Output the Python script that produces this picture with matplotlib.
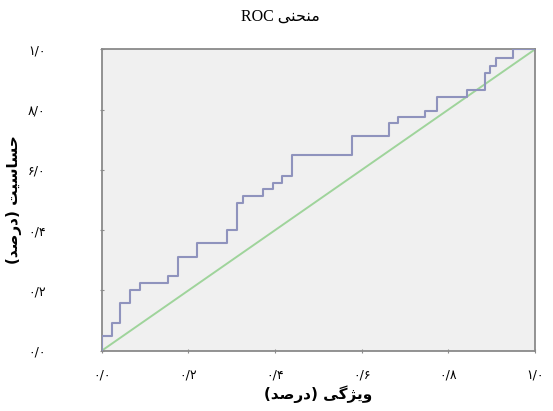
import matplotlib
matplotlib.use("Agg")
import matplotlib.pyplot as plt

# ROC curve corner points (1 - specificity, sensitivity)
fpr = [0.0, 0.0, 0.023, 0.023, 0.042, 0.042, 0.065, 0.065, 0.088, 0.088,
       0.154, 0.154, 0.177, 0.177, 0.219, 0.219, 0.288, 0.288, 0.312, 0.312,
       0.327, 0.327, 0.373, 0.373, 0.396, 0.396, 0.415, 0.415, 0.438, 0.438,
       0.577, 0.577, 0.664, 0.664, 0.684, 0.684, 0.746, 0.746, 0.774, 0.774,
       0.842, 0.842, 0.885, 0.885, 0.897, 0.897, 0.910, 0.910, 0.950, 0.950, 1.0]
tpr = [0.0, 0.049, 0.049, 0.093, 0.093, 0.157, 0.157, 0.201, 0.201, 0.226,
       0.226, 0.248, 0.248, 0.312, 0.312, 0.356, 0.356, 0.400, 0.400, 0.489,
       0.489, 0.513, 0.513, 0.535, 0.535, 0.555, 0.555, 0.580, 0.580, 0.650,
       0.650, 0.712, 0.712, 0.754, 0.754, 0.776, 0.776, 0.795, 0.795, 0.843,
       0.843, 0.865, 0.865, 0.923, 0.923, 0.945, 0.945, 0.970, 0.970, 1.0, 1.0]
ref_line = [0.0, 1.0]

tick_values = [0.0, 0.2, 0.4, 0.6, 0.8, 1.0]
# Persian tick labels, written in the visual order they show in the picture
x_tick_labels = ["\u06f0/\u06f0", "\u06f0/\u06f2", "\u06f0/\u06f4",
                 "\u06f0/\u06f6", "\u06f0/\u06f8", "\u06f1/\u06f0"]
y_tick_labels = ["\u06f0/\u06f0", "\u06f0/\u06f2", "\u06f0/\u06f4",
                 "\u06f6/\u06f0", "\u06f8/\u06f0", "\u06f1/\u06f0"]

# Arabic presentation forms in visual (left to right) order, since matplotlib does no shaping
darsad = "(\ufeaa\ufebb\ufead\ufea9)"                          # (درصد)
title_text = "ROC \ufef0\ufee8\ufea4\ufee8\ufee3"              # منحنی ROC
x_label = darsad + " \ufef0\ufb94\ufb8b\ufef3\ufeed"            # ویژگی (درصد)
y_label = darsad + " \ufe96\ufef4\ufeb3\ufe8e\ufeb4\ufea3"      # حساسیت (درصد)

fig = plt.figure(figsize=(5.53, 4.11), dpi=100)
ax = fig.add_axes([0.184, 0.1467, 0.7835, 0.7333])
ax.set_facecolor("#f0f0f0")

ax.plot(ref_line, ref_line, color="#9fd49b", lw=1.4, zorder=2)
ax.plot(fpr, tpr, color="#8f93bd", lw=1.5, zorder=3)

ax.set_xlim(0, 1)
ax.set_ylim(0, 1)
for s in ax.spines.values():
    s.set_color("#8a8a8a")
    s.set_linewidth(1.3)

ax.set_xticks(tick_values)
ax.set_xticklabels(x_tick_labels)
ax.set_yticks(tick_values)
ax.set_yticklabels(y_tick_labels)
ax.tick_params(axis="both", direction="inout", length=3, color="#8a8a8a",
               labelsize=9)
ax.tick_params(axis="x", pad=11)
ax.tick_params(axis="y", pad=39)

ax.set_xlabel(x_label, fontsize=11, fontweight="bold")
ax.xaxis.set_label_coords(0.5, -0.115)
ax.set_ylabel(y_label, fontsize=11, fontweight="bold")
ax.yaxis.set_label_coords(-0.185, 0.5)

fig.text(280 / 553, 1 - 17 / 411, title_text, ha="center", va="center",
         fontsize=11.5, family=["Liberation Serif", "DejaVu Sans"])

fig.savefig("out.png", dpi=100)
